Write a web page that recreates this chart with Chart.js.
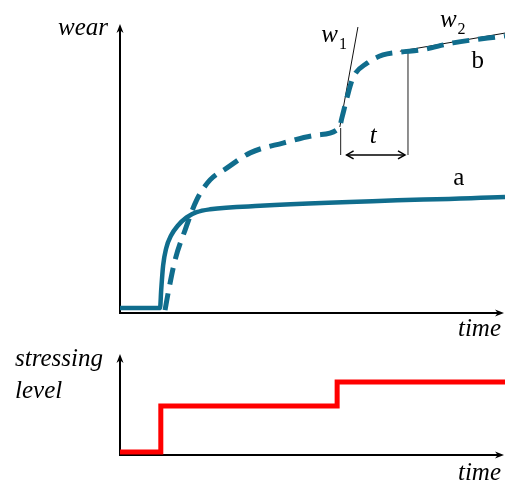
<!DOCTYPE html>
<html>
<head>
<meta charset="utf-8">
<script src="https://cdn.jsdelivr.net/npm/chart.js@4.4.0/dist/chart.umd.min.js"></script>
<style>
  html, body { margin: 0; padding: 0; background: #fff; }
  #wrap { position: relative; width: 505px; height: 482px; }
  canvas { position: absolute; left: 0; }
  #wear-chart { top: 0; }
  #stress-chart { top: 340px; }
</style>
</head>
<body>
<div id="wrap">
  <canvas id="wear-chart" width="505" height="345"></canvas>
  <canvas id="stress-chart" width="505" height="142"></canvas>
</div>
<script>
// curve a: wear under constant stressing
const timeA = [0, 10.4, 10.7, 11.2, 12, 13.3, 15, 17.3, 19.9, 23.4, 36.4, 100];
const wearA = [1.7, 1.7, 8, 16.5, 22.5, 27, 30.3, 33.2, 35, 36, 37.2, 40.3];

// curve b: wear under stepped stressing
const timeB = [11.7, 12.5, 14.3, 16.9, 19.9, 23.4, 27.7, 33.8, 42.3, 51.2, 56.9, 57.7, 59, 60.5, 64.2, 68.3, 72.7, 77.9, 86.5, 100];
const wearB = [1.0, 6.9, 18.4, 28.8, 39.2, 46.2, 50.3, 55.6, 59, 61.8, 64.2, 68.1, 75, 81.6, 86.8, 89.6, 90.6, 91.3, 93.8, 96.2];

// tangent lines w1 / w2
const tangentW1Time = [57.1, 61.8];
const tangentW1Wear = [64.6, 99.3];
const tangentW2Time = [72.7, 100];
const tangentW2Wear = [90.9, 97.2];

// transition interval t
const intervalTime = [57.3, 74.8];
const intervalTopWear = [64.2, 91.3];
const intervalArrowWear = 54.9;

// stressing level steps
const stressTime = [0, 10.6, 56.4, 100];
const stressLevel = [3, 49, 73, 73];

const BLUE = '#106d8d';

function pts(xs, ys) {
  return xs.map((x, i) => ({ x: x, y: ys[i] }));
}

function arrowHead(ctx, x, y, dx, dy, len, half) {
  const px = -dy, py = dx;
  ctx.beginPath();
  ctx.moveTo(x, y);
  ctx.lineTo(x - dx * len + px * half, y - dy * len + py * half);
  ctx.lineTo(x - dx * len * 0.7, y - dy * len * 0.7);
  ctx.lineTo(x - dx * len - px * half, y - dy * len - py * half);
  ctx.closePath();
  ctx.fill();
}

function openHead(ctx, x, y, dx) {
  ctx.beginPath();
  ctx.moveTo(x - dx * 7, y - 4);
  ctx.lineTo(x, y);
  ctx.lineTo(x - dx * 7, y + 4);
  ctx.stroke();
}

// axes with arrow tips, drawn under the curves
const arrowAxes = {
  id: 'arrowAxes',
  beforeDatasetsDraw(chart) {
    const { ctx, chartArea: a } = chart;
    ctx.save();
    ctx.strokeStyle = '#000';
    ctx.fillStyle = '#000';
    ctx.lineWidth = 2;
    ctx.beginPath();
    ctx.moveTo(a.left, a.bottom + 1);
    ctx.lineTo(a.left, a.top + 4);
    ctx.moveTo(a.left - 1, a.bottom);
    ctx.lineTo(a.right - 5, a.bottom);
    ctx.stroke();
    arrowHead(ctx, a.left, a.top - 1, 0, -1, 9, 3.5);
    arrowHead(ctx, a.right - 1, a.bottom, 1, 0, 9, 3.5);
    ctx.restore();
  }
};

// text labels for the axes and curves
const textLabels = {
  id: 'textLabels',
  afterDatasetsDraw(chart, args, opts) {
    const { ctx } = chart;
    const xs = chart.scales.x, ys = chart.scales.y;
    ctx.save();
    ctx.fillStyle = '#000';
    (opts.items || []).forEach(it => {
      const x = it.t !== undefined ? xs.getPixelForValue(it.t) : it.px;
      const y = it.w !== undefined ? ys.getPixelForValue(it.w) : it.py;
      ctx.font = it.font;
      ctx.textAlign = it.align || 'left';
      ctx.textBaseline = 'alphabetic';
      ctx.fillText(it.text, x, y);
      if (it.sub) {
        const wdt = ctx.measureText(it.text).width;
        ctx.font = '16px "Liberation Serif"';
        ctx.textAlign = 'left';
        ctx.fillText(it.sub, x + wdt + 1, y + 7);
      }
    });
    ctx.restore();
  }
};

// double arrow for the interval t
const intervalArrow = {
  id: 'intervalArrow',
  afterDatasetsDraw(chart) {
    const meta = chart.getDatasetMeta(chart.data.datasets.length - 1);
    const p0 = meta.data[0], p1 = meta.data[1];
    const ctx = chart.ctx;
    ctx.save();
    ctx.strokeStyle = '#000';
    ctx.lineWidth = 1.5;
    ctx.beginPath();
    ctx.moveTo(p0.x + 6, p0.y);
    ctx.lineTo(p1.x - 3, p1.y);
    ctx.stroke();
    openHead(ctx, p0.x + 6, p0.y, -1);
    openHead(ctx, p1.x - 3, p1.y, 1);
    ctx.restore();
  }
};

const italic = 'italic 25px "Liberation Serif"';
const upright = '25px "Liberation Serif"';

const baseScales = {
  x: { type: 'linear', display: false, min: 0, max: 100 },
  y: { type: 'linear', display: false, min: 0, max: 100 }
};

new Chart(document.getElementById('wear-chart'), {
  type: 'line',
  data: {
    datasets: [
      {
        label: 'a',
        data: pts(timeA, wearA),
        borderColor: BLUE,
        borderWidth: 4.5,
        cubicInterpolationMode: 'monotone',
        pointRadius: 0,
        clip: false
      },
      {
        label: 'b',
        data: pts(timeB, wearB),
        borderColor: BLUE,
        borderWidth: 5,
        borderDash: [17, 9],
        cubicInterpolationMode: 'monotone',
        pointRadius: 0,
        clip: false
      },
      {
        label: 'w1',
        data: pts(tangentW1Time, tangentW1Wear),
        borderColor: '#111',
        borderWidth: 1,
        pointRadius: 0
      },
      {
        label: 'w2',
        data: pts(tangentW2Time, tangentW2Wear),
        borderColor: '#111',
        borderWidth: 1,
        pointRadius: 0
      },
      {
        label: 'start',
        data: pts([intervalTime[0], intervalTime[0]], [intervalArrowWear, intervalTopWear[0]]),
        borderColor: '#444',
        borderWidth: 1.2,
        pointRadius: 0
      },
      {
        label: 'end',
        data: pts([intervalTime[1], intervalTime[1]], [intervalArrowWear, intervalTopWear[1]]),
        borderColor: '#444',
        borderWidth: 1.2,
        pointRadius: 0
      },
      {
        label: 't',
        data: pts(intervalTime, [intervalArrowWear, intervalArrowWear]),
        borderWidth: 0,
        showLine: false,
        pointRadius: 0
      }
    ]
  },
  options: {
    responsive: false,
    animation: false,
    events: [],
    layout: { padding: { left: 120, right: 0, top: 25, bottom: 32 } },
    scales: baseScales,
    plugins: {
      legend: { display: false },
      tooltip: { enabled: false },
      textLabels: {
        items: [
          { text: 'wear', font: italic, align: 'right', px: 108, py: 35 },
          { text: 'time', font: italic, align: 'right', px: 501, py: 336 },
          { text: 'a', font: upright, align: 'center', t: 88, w: 44.4 },
          { text: 'b', font: upright, align: 'center', t: 92.9, w: 85.1 },
          { text: 't', font: italic, align: 'center', t: 65.8, w: 59 },
          { text: 'w', font: italic, t: 52.3, w: 94.1, sub: '1' },
          { text: 'w', font: italic, t: 83.1, w: 99.3, sub: '2' }
        ]
      }
    }
  },
  plugins: [arrowAxes, textLabels, intervalArrow]
});

new Chart(document.getElementById('stress-chart'), {
  type: 'line',
  data: {
    datasets: [{
      label: 'stressing level',
      data: pts(stressTime, stressLevel),
      borderColor: '#ff0000',
      borderWidth: 5,
      stepped: 'before',
      borderJoinStyle: 'miter',
      borderCapStyle: 'butt',
      pointRadius: 0,
      clip: false
    }]
  },
  options: {
    responsive: false,
    animation: false,
    events: [],
    layout: { padding: { left: 120, right: 0, top: 15, bottom: 27 } },
    scales: baseScales,
    plugins: {
      legend: { display: false },
      tooltip: { enabled: false },
      textLabels: {
        items: [
          { text: 'stressing', font: italic, align: 'left', px: 15, py: 26 },
          { text: 'level', font: italic, align: 'left', px: 15, py: 58 },
          { text: 'time', font: italic, align: 'right', px: 501, py: 140 }
        ]
      }
    }
  },
  plugins: [arrowAxes, textLabels]
});
</script>
</body>
</html>
